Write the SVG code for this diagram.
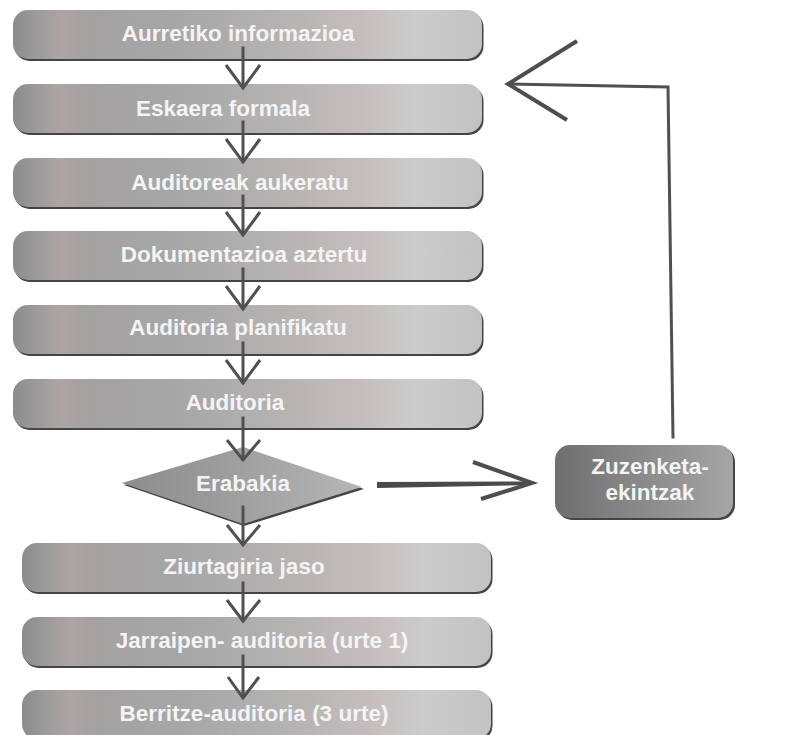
<svg xmlns="http://www.w3.org/2000/svg" width="795" height="735" viewBox="0 0 795 735">
  <style>
    .lbl { font-family: "Liberation Sans", Arial, sans-serif; font-size: 22.5px; font-weight: bold; fill: #f4f4f4; text-anchor: middle; }
    .shadow { fill: #444444; }
    .step { fill: url(#stepFill); }
    .line { stroke: #505050; stroke-width: 3; fill: none; stroke-linecap: square; }
    .head { stroke: #505050; stroke-width: 3; fill: none; stroke-linecap: butt; stroke-linejoin: miter; }
    .bigline { stroke: #4e4e4e; stroke-width: 4; fill: none; stroke-linejoin: miter; }
  </style>
  <defs>
    <linearGradient id="stepFill" x1="0" y1="0" x2="1" y2="0">
      <stop offset="0" stop-color="#8c8c8c"/>
      <stop offset="0.05" stop-color="#9c9a9a"/>
      <stop offset="0.1" stop-color="#aea4a4"/>
      <stop offset="0.16" stop-color="#a4a1a1"/>
      <stop offset="0.35" stop-color="#a7a7a7"/>
      <stop offset="0.55" stop-color="#b4b1b1"/>
      <stop offset="0.74" stop-color="#c5bdbd"/>
      <stop offset="0.86" stop-color="#cccccc"/>
      <stop offset="1" stop-color="#c2c2c2"/>
    </linearGradient>
    <linearGradient id="darkFill" x1="0" y1="0" x2="1" y2="0">
      <stop offset="0" stop-color="#6e6e6e"/>
      <stop offset="0.35" stop-color="#838383"/>
      <stop offset="0.75" stop-color="#979797"/>
      <stop offset="1" stop-color="#a6a6a6"/>
    </linearGradient>
    <linearGradient id="diamondFill" x1="0" y1="0" x2="1" y2="0">
      <stop offset="0" stop-color="#8c8c8c"/>
      <stop offset="0.5" stop-color="#a0a0a0"/>
      <stop offset="1" stop-color="#b6b6b6"/>
    </linearGradient>
  </defs>

  <rect width="795" height="735" fill="#ffffff"/>

  <!-- process steps -->
  <g id="step-aurretiko">
    <rect class="shadow" x="14.5" y="12" width="469" height="49" rx="15"/>
    <rect class="step" x="13" y="10" width="469" height="49" rx="15"/>
    <text class="lbl" x="238" y="41">Aurretiko informazioa</text>
  </g>
  <g id="step-eskaera">
    <rect class="shadow" x="14.5" y="86" width="469" height="49" rx="15"/>
    <rect class="step" x="13" y="84" width="469" height="49" rx="15"/>
    <text class="lbl" x="223" y="116">Eskaera formala</text>
  </g>
  <g id="step-auditoreak">
    <rect class="shadow" x="14.5" y="160" width="469" height="49" rx="15"/>
    <rect class="step" x="13" y="158" width="469" height="49" rx="15"/>
    <text class="lbl" x="240" y="190">Auditoreak aukeratu</text>
  </g>
  <g id="step-dokumentazioa">
    <rect class="shadow" x="14.5" y="233" width="469" height="49" rx="15"/>
    <rect class="step" x="13" y="231" width="469" height="49" rx="15"/>
    <text class="lbl" x="244" y="262">Dokumentazioa aztertu</text>
  </g>
  <g id="step-planifikatu">
    <rect class="shadow" x="14.5" y="307" width="469" height="49" rx="15"/>
    <rect class="step" x="13" y="305" width="469" height="49" rx="15"/>
    <text class="lbl" x="238" y="335">Auditoria planifikatu</text>
  </g>
  <g id="step-auditoria">
    <rect class="shadow" x="14.5" y="381" width="469" height="49" rx="15"/>
    <rect class="step" x="13" y="379" width="469" height="49" rx="15"/>
    <text class="lbl" x="235" y="410">Auditoria</text>
  </g>

  <!-- decision -->
  <g id="decision-erabakia">
    <polygon points="124,485 244,449 364,489 244,526" fill="#444444"/>
    <polygon points="122,483 243,447 362,487 243,524" fill="url(#diamondFill)"/>
    <text class="lbl" x="243" y="491">Erabakia</text>
  </g>

  <g id="step-ziurtagiria">
    <rect class="shadow" x="23.5" y="545" width="469" height="49" rx="15"/>
    <rect class="step" x="22" y="543" width="469" height="49" rx="15"/>
    <text class="lbl" x="244" y="574">Ziurtagiria jaso</text>
  </g>
  <g id="step-jarraipen">
    <rect class="shadow" x="23.5" y="619" width="469" height="49" rx="15"/>
    <rect class="step" x="22" y="617" width="469" height="49" rx="15"/>
    <text class="lbl" x="262" y="648">Jarraipen- auditoria (urte 1)</text>
  </g>
  <g id="step-berritze">
    <rect class="shadow" x="23.5" y="692" width="469" height="49" rx="15"/>
    <rect class="step" x="22" y="690" width="469" height="49" rx="15"/>
    <text class="lbl" x="254" y="721">Berritze-auditoria (3 urte)</text>
  </g>

  <!-- corrective actions -->
  <g id="zuzenketa">
    <rect class="shadow" x="557" y="447" width="178" height="73" rx="15"/>
    <rect x="555" y="445" width="178" height="73" rx="15" fill="url(#darkFill)"/>
    <text class="lbl" x="650" y="474">Zuzenketa-</text>
    <text class="lbl" x="650" y="500">ekintzak</text>
  </g>

  <!-- connectors -->
  <g id="connectors">
    <!-- downward flow -->
    <line class="line" x1="243" y1="48" x2="243" y2="87"/>
    <polyline class="head" points="226,65 243,88 260,65"/>
    <line class="line" x1="243" y1="122" x2="243" y2="161"/>
    <polyline class="head" points="226,139 243,162 260,139"/>
    <line class="line" x1="243" y1="196" x2="243" y2="234"/>
    <polyline class="head" points="226,212 243,235 260,212"/>
    <line class="line" x1="243" y1="269" x2="243" y2="308"/>
    <polyline class="head" points="226,286 243,309 260,286"/>
    <line class="line" x1="243" y1="343" x2="243" y2="382"/>
    <polyline class="head" points="226,360 243,383 260,360"/>
    <line class="line" x1="243" y1="418" x2="243" y2="459"/>
    <polyline class="head" points="227,440 243,460 260,440"/>
    <line class="line" x1="243" y1="507" x2="243" y2="544"/>
    <polyline class="head" points="227,525 243,545 260,525"/>
    <line class="line" x1="243" y1="583" x2="243" y2="620"/>
    <polyline class="head" points="227,600 243,621 260,600"/>
    <line class="line" x1="243" y1="656" x2="243" y2="696"/>
    <polyline class="head" points="228,677 243,698 259,677"/>

    <!-- decision to corrective actions -->
    <polygon points="377,482 531,481.5 531,485 377,488" fill="#4a4a4a"/>
    <polyline class="bigline" points="473,462 532,483 481,499"/>

    <!-- corrective actions back to formal request -->
    <polyline class="line" points="673,437 668,87 510,84" stroke-linecap="butt"/>
    <polyline class="bigline" points="577,41 508,84 567,120"/>
  </g>
</svg>
